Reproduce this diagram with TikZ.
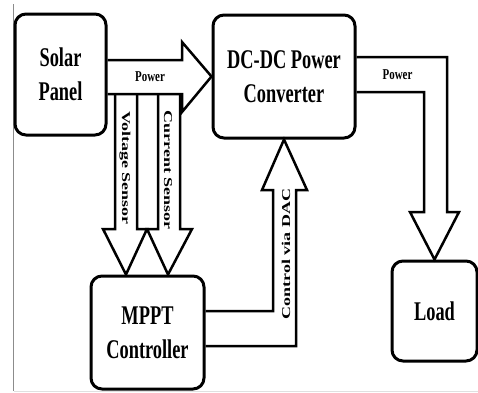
\documentclass[tikz,border=0pt]{standalone}
\usepackage{fontspec}
\newfontfamily\boxfont[FakeStretch=0.68]{Liberation Serif}
\newfontfamily\smallfont[FakeStretch=0.73]{Liberation Serif}
\newfontfamily\vertfont[FakeStretch=1.5]{Liberation Serif}
\begin{document}
\begin{tikzpicture}[x=1pt,y=-1pt,
  box/.style={draw, line width=3pt, rounded corners=11pt, align=center, inner sep=0pt,
    font=\boxfont\bfseries\fontsize{27}{34}\selectfont},
  blk/.style={draw, line width=2.5pt, line join=miter},
  lbl/.style={inner sep=0pt, font=\smallfont\bfseries\fontsize{15}{18}\selectfont},
  vlbl/.style={inner sep=0pt, font=\vertfont\bfseries\fontsize{12}{14}\selectfont},
  frame/.style={draw=black!45, line width=1pt}]
\useasboundingbox (0,0) rectangle (478,392);
% scan frame
\draw[frame] (13.5,4) -- (13.5,391);
\draw[draw=black!12, line width=0.8pt] (13.5,391) -- (478,391);
% boxes
\node[box, minimum width=91pt, minimum height=121pt] (solar) at (60.5,74.5) {Solar\\Panel};
\node[box, minimum width=142pt, minimum height=123pt] (dcdc) at (284,76.5) {DC-DC Power\\Converter};
\node[box, minimum width=113pt, minimum height=113pt] (mppt) at (147.5,332.5) {MPPT\\Controller};
\node[box, minimum width=85pt, minimum height=100pt] (load) at (434.5,311) {Load};
% power arrow solar -> dcdc
\draw[blk] (solar.east |- 0,60) -- (182,60) -- (182,42) -- (dcdc.west) -- (182,112) -- (182,94) -- (solar.east |- 0,94);
% sensor arrows
\draw[blk] (115,94) -- (115,229) -- (103,229) -- (mppt.north -| 126,0) -- (147,229) -- (137,229) -- (137,94);
\draw[blk] (158,94) -- (158,229) -- (147,229) -- (mppt.north -| 168,0) -- (192,229) -- (180,229) -- (180,94);
% power arrow dcdc -> load
\draw[blk] (dcdc.east |- 0,57) -- (447,57) -- (447,212) -- (459,212) -- (load.north) -- (410,212) -- (424,212) -- (424,92) -- (dcdc.east |- 0,92);
% control arrow mppt -> dcdc
\draw[blk] (mppt.east |- 0,346) -- (296,346) -- (296,190) -- (307,190) -- (dcdc.south) -- (262,190) -- (273,190) -- (273,311) -- (mppt.east |- 0,311);
% labels
\node[lbl] (p1) at (150,77) {Power};
\node[lbl] (p2) at (397.5,75) {Power};
\node[vlbl, rotate=-90] (vs) at (125,168) {Voltage Sensor};
\node[vlbl, rotate=-90] (cs) at (168,170) {Current Sensor};
\node[vlbl, rotate=90] (cd) at (286,254) {Control via DAC};
\end{tikzpicture}
\end{document}
